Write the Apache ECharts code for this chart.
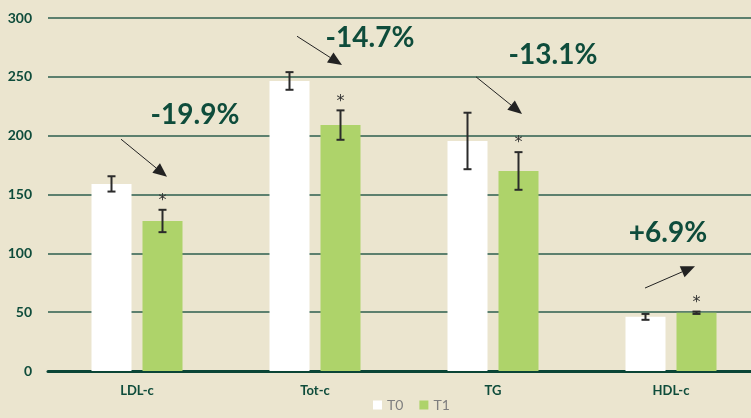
<!DOCTYPE html>
<html>
<head>
<meta charset="utf-8">
<script src="https://cdn.jsdelivr.net/npm/echarts@6/dist/echarts.min.js"></script>
<style>
  html, body { margin: 0; padding: 0; background: #ebe5cf; }
  #chart { width: 751px; height: 418px; }
</style>
</head>
<body>
<div id="chart"></div>
<script>
// data
const categories = ['LDL-c', 'Tot-c', 'TG', 'HDL-c'];
const t0Values = [159, 246.5, 195.5, 46];
const t0Errors = [6.5, 7.5, 24, 2.5];
const t1Values = [127.5, 209, 170, 49.5];
const t1Errors = [9.5, 12.5, 16, 1];
const t1Starred = [true, true, true, true];
const changeLabels = ['-19.9%', '-14.7%', '-13.1%', '+6.9%'];

// annotation placement: [pixel offset from category centre, axis value]
const labelAt = [[58, 217.5], [55, 283], [60, 268.5], [-3, 117]];
const arrowFrom = [[-16, 197], [-18, 284.5], [-17, 250], [-26, 70.5]];
const arrowTo = [[30, 165], [27, 260], [29, 218.5], [24, 89]];

const darkGreen = '#0e4c3b';
const barWidth = 40;
const barGapPx = 11;
const shift = (barWidth + barGapPx) / 2;

function errorSeries(values, errors, offset, stars) {
  return {
    type: 'custom',
    silent: true,
    z: 5,
    data: values.map((v, i) => [i, v, errors[i], stars && stars[i] ? 1 : 0]),
    renderItem(params, api) {
      const i = api.value(0), v = api.value(1), e = api.value(2);
      const x = api.coord([i, v])[0] + offset;
      const top = api.coord([i, v + e])[1];
      const bot = api.coord([i, v - e])[1];
      const style = { stroke: '#2b2b2b', lineWidth: 2 };
      const kids = [
        { type: 'line', shape: { x1: x, y1: top, x2: x, y2: bot }, style },
        { type: 'line', shape: { x1: x - 4, y1: top, x2: x + 4, y2: top }, style },
        { type: 'line', shape: { x1: x - 4, y1: bot, x2: x + 4, y2: bot }, style }
      ];
      if (api.value(3)) {
        kids.push({
          type: 'text',
          style: {
            text: '*', x: x, y: top - 9, align: 'center', verticalAlign: 'middle',
            fill: '#333', font: '16px "DejaVu Sans"'
          }
        });
      }
      return { type: 'group', children: kids };
    }
  };
}

const chart = echarts.init(document.getElementById('chart'));
chart.setOption({
  backgroundColor: '#ebe5cf',
  animation: false,
  grid: { left: 48, width: 712, top: 18, bottom: 47, containLabel: false, outerBoundsMode: 'none' },
  legend: {
    data: ['T0', 'T1'],
    left: 368,
    bottom: 1,
    icon: 'rect',
    itemWidth: 9,
    itemHeight: 9,
    itemGap: 16,
    textStyle: { color: '#7f7f7f', fontSize: 14, fontFamily: 'Lato' }
  },
  xAxis: {
    type: 'category',
    data: categories,
    axisTick: { show: false },
    axisLine: { lineStyle: { color: '#0b4536', width: 3 } },
    axisLabel: { color: darkGreen, fontWeight: 'bold', fontSize: 13, fontFamily: 'Lato', margin: 13 }
  },
  yAxis: {
    type: 'value',
    min: 0,
    max: 300,
    interval: 50,
    axisLine: { show: false },
    axisTick: { show: false },
    axisLabel: { color: darkGreen, fontWeight: 'bold', fontSize: 14, fontFamily: 'Lato', margin: 16 },
    splitLine: { lineStyle: { color: '#2c5e4e', width: 1.5 } }
  },
  series: [
    {
      name: 'T0', type: 'bar', data: t0Values, barWidth: barWidth,
      barGap: (barGapPx / barWidth * 100) + '%',
      itemStyle: { color: '#ffffff' }
    },
    {
      name: 'T1', type: 'bar', data: t1Values, barWidth: barWidth,
      itemStyle: { color: '#aed36a' }
    },
    errorSeries(t0Values, t0Errors, -shift, null),
    errorSeries(t1Values, t1Errors, shift, t1Starred),
    {
      type: 'custom',
      silent: true,
      z: 6,
      data: changeLabels.map((t, i) => [i]),
      renderItem(params, api) {
        const i = api.value(0);
        const cx = api.coord([i, 0])[0];
        const pt = (p) => [cx + p[0], api.coord([i, p[1]])[1]];
        const a = pt(arrowFrom[i]), b = pt(arrowTo[i]), l = pt(labelAt[i]);
        const ang = Math.atan2(b[1] - a[1], b[0] - a[0]);
        const len = 14, half = 6;
        const base = [b[0] - len * Math.cos(ang), b[1] - len * Math.sin(ang)];
        const nx = -Math.sin(ang) * half, ny = Math.cos(ang) * half;
        return {
          type: 'group',
          children: [
            { type: 'line', shape: { x1: a[0], y1: a[1], x2: base[0], y2: base[1] },
              style: { stroke: '#222', lineWidth: 1 } },
            { type: 'polygon', shape: { points: [b, [base[0] + nx, base[1] + ny], [base[0] - nx, base[1] - ny]] },
              style: { fill: '#222' } },
            { type: 'text',
              style: { text: changeLabels[i], x: l[0], y: l[1], align: 'center', verticalAlign: 'middle',
                fill: darkGreen, font: 'bold 28px Lato' } }
          ]
        };
      }
    }
  ]
});
</script>
</body>
</html>
